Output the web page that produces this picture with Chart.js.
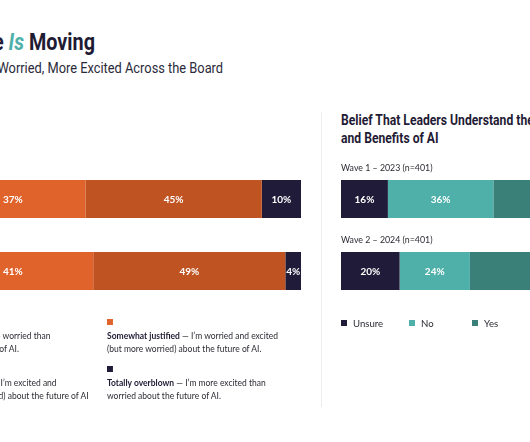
<!DOCTYPE html>
<html>
<head>
<meta charset="utf-8">
<script src="https://cdn.jsdelivr.net/npm/chart.js@4"></script>
<style>
  html, body { margin: 0; padding: 0; background: #fff; }
  body { width: 530px; height: 442px; position: relative; overflow: hidden; font-family: Lato, "Noto Sans", sans-serif; color: #2b2b33; }
  .abs { position: absolute; white-space: nowrap; }
  canvas { position: absolute; }
  #title { right: 435px; top: 29px; font: 700 23px/27px Roboto; color: #1f1b35; transform: scaleX(0.86); transform-origin: right center; }
  #title i { color: #4fb0a9; }
  #subtitle { right: 307px; top: 60px; font: 400 14.5px/17px Roboto; color: #2a2a3a; transform: scaleX(0.885); transform-origin: right center; }
  #rtitle { left: 341px; top: 111px; font: 700 15px/18px Roboto; color: #1f1b35; transform: scaleX(0.81); transform-origin: left center; }
  #divider { left: 321px; top: 112px; width: 1px; height: 295px; background: #ededed; }
  .item { position: absolute; font-size: 10px; line-height: 13px; color: #2b2b33; white-space: nowrap; transform: scaleX(0.85); transform-origin: left top; }
  .item .sq { width: 7px; height: 6px; margin-bottom: 4px; }
  .item b { font-weight: 700; color: #1f1b35; }
  .key { position: absolute; font-size: 9.6px; line-height: 10px; }
  .key span { display: inline-block; width: 6px; height: 6px; margin-right: 6px; vertical-align: 1px; }
</style>
</head>
<body>
<div id="title" class="abs">The Needle <i>Is</i> Moving</div>
<div id="subtitle" class="abs">Less Worried, More Excited Across the Board</div>
<div id="rtitle" class="abs">Belief That Leaders Understand the Risks<br>and Benefits of AI</div>
<div id="divider" class="abs"></div>

<canvas id="leftChart" width="392" height="170" style="left:-91px; top:150px;"></canvas>
<canvas id="rightChart" width="293" height="170" style="left:341px; top:150px;"></canvas>

<div id="leftLegend"></div>
<div id="rightLegend"></div>

<script>
// Left panel: how justified is the concern about AI
const leftWaves = ['2023', '2024'];
const leftSeries = ['Very justified', 'Somewhat justified', 'Somewhat overblown', 'Totally overblown'];
const leftNotes = [
  ['I\u2019m more worried than', 'excited about the future of AI.'],
  ['I\u2019m worried and excited', '(but more worried) about the future of AI.'],
  ['I\u2019m excited and', 'worried (but more excited) about the future of AI'],
  ['I\u2019m more excited than', 'worried about the future of AI.']
];
const veryJustified = [8, 6];
const somewhatJustified = [37, 41];
const somewhatOverblown = [45, 49];
const totallyOverblown = [10, 4];
const leftColors = ['#a8431a', '#e0632b', '#bf5422', '#201b38'];

// Right panel: belief that leaders understand the risks and benefits
const rightWaves = ['Wave 1 \u2013 2023 (n=401)', 'Wave 2 \u2013 2024 (n=401)'];
const rightSeries = ['Unsure', 'No', 'Yes'];
const unsure = [16, 20];
const no = [36, 24];
const yes = [48, 56];
const rightColors = ['#201b38', '#4fb0a9', '#3a8078'];

// white percentage in the middle of each segment
const valueLabels = {
  id: 'valueLabels',
  afterDatasetsDraw(chart) {
    const ctx = chart.ctx;
    ctx.save();
    ctx.font = '700 10px Lato';
    ctx.fillStyle = '#fff';
    ctx.textAlign = 'center';
    ctx.textBaseline = 'middle';
    chart.data.datasets.forEach((ds, i) => {
      chart.getDatasetMeta(i).data.forEach((bar, j) => {
        ctx.fillText(ds.data[j] + '%', (bar.x + bar.base) / 2, bar.y + 0.5);
      });
    });
    ctx.restore();
  }
};

// wave label sitting above each bar
const waveLabels = {
  id: 'waveLabels',
  afterDraw(chart) {
    const ctx = chart.ctx;
    const meta = chart.getDatasetMeta(0);
    ctx.save();
    ctx.font = '400 8.8px Lato';
    ctx.fillStyle = '#2b2b33';
    ctx.textAlign = 'left';
    ctx.textBaseline = 'alphabetic';
    chart.data.labels.forEach((lab, j) => {
      const bar = meta.data[j];
      ctx.fillText(lab, chart.chartArea.left, bar.y - bar.height / 2 - 9);
    });
    ctx.restore();
  }
};

function makeBars(id, labels, names, values, colors, extra) {
  return new Chart(document.getElementById(id), {
    type: 'bar',
    data: {
      labels: labels,
      datasets: names.map((n, i) => ({
        label: n,
        data: values[i],
        backgroundColor: colors[i],
        borderWidth: 0,
        barPercentage: 38 / 72,
        categoryPercentage: 1
      }))
    },
    options: {
      indexAxis: 'y',
      responsive: false,
      animation: false,
      layout: { padding: { top: 13, bottom: 13, left: 0, right: 0 } },
      scales: {
        x: { stacked: true, min: 0, max: 100, display: false },
        y: { stacked: true, display: false }
      },
      plugins: { legend: { display: false }, tooltip: { enabled: false } }
    },
    plugins: [valueLabels].concat(extra)
  });
}

makeBars('leftChart', leftWaves, leftSeries,
  [veryJustified, somewhatJustified, somewhatOverblown, totallyOverblown], leftColors, []);
makeBars('rightChart', rightWaves, rightSeries, [unsure, no, yes], rightColors, [waveLabels]);

// left legend, two columns, row-major
const leftLegend = document.getElementById('leftLegend');
leftSeries.forEach((name, i) => {
  const d = document.createElement('div');
  d.className = 'item';
  d.style.left = (i % 2 === 0 ? -93 : 107) + 'px';
  d.style.top = (i < 2 ? 319 : 366) + 'px';
  d.innerHTML = '<div class="sq" style="background:' + leftColors[i] + '"></div><b>' + name + '</b> \u2014 ' +
    leftNotes[i][0] + '<br>' + leftNotes[i][1];
  leftLegend.appendChild(d);
});

// right legend, one row
const rightLegend = document.getElementById('rightLegend');
const keyX = [341, 409, 472];
rightSeries.forEach((name, i) => {
  const d = document.createElement('div');
  d.className = 'key';
  d.style.left = keyX[i] + 'px';
  d.style.top = '319px';
  d.innerHTML = '<span style="background:' + rightColors[i] + '"></span>' + name;
  rightLegend.appendChild(d);
});
</script>
</body>
</html>
